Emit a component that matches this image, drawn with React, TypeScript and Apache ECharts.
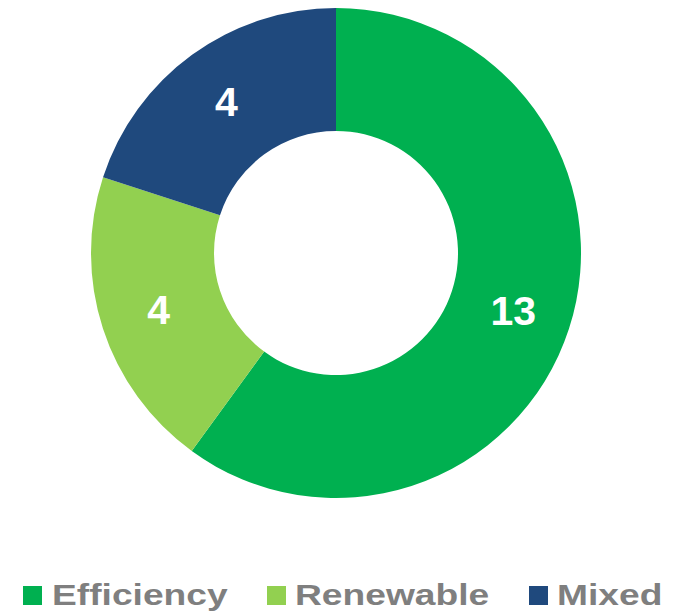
import React, { useEffect, useRef } from "react";
import * as echarts from "echarts";

const categories = ["Efficiency", "Renewable", "Mixed"];
const sliceValues = [13, 4.33, 4.33];
const labelValues = [13, 4, 4];
const colors = ["#00B050", "#92D050", "#1F497D"];

export default function App() {
  const ref = useRef<HTMLDivElement>(null);

  useEffect(() => {
    if (!ref.current) return;
    const chart = echarts.init(ref.current, null, { renderer: "svg" });

    const legendSquareX = [23, 267, 529];
    const legendTextX = [52, 295, 557];
    const legendGraphics: any[] = [];
    categories.forEach((name, i) => {
      legendGraphics.push({
        type: "rect",
        shape: { x: legendSquareX[i], y: 586, width: 19, height: 19 },
        style: { fill: colors[i] },
        silent: true,
      });
      legendGraphics.push({
        type: "text",
        x: legendTextX[i],
        y: 594,
        scaleX: 1.24,
        scaleY: 1,
        style: {
          text: name,
          fill: "#7F7F7F",
          font: "bold 30px 'Liberation Sans', Arial, sans-serif",
          align: "left",
          verticalAlign: "middle",
        },
        silent: true,
      });
    });

    chart.setOption({
      animation: false,
      backgroundColor: "#FFFFFF",
      graphic: legendGraphics,
      series: [
        {
          type: "pie",
          center: [336, 253],
          radius: [122, 245],
          startAngle: 90,
          clockwise: true,
          avoidLabelOverlap: false,
          emphasis: { disabled: true },
          itemStyle: { borderWidth: 0 },
          label: {
            show: true,
            position: "inside",
            color: "#FFFFFF",
            fontSize: 41,
            fontWeight: "bold",
            fontFamily: "'Liberation Sans', Arial, sans-serif",
            formatter: (p: any) => String(labelValues[p.dataIndex]),
          },
          labelLine: { show: false },
          data: categories.map((name, i) => ({
            name,
            value: sliceValues[i],
            itemStyle: { color: colors[i] },
          })),
        },
      ],
    });

    return () => {
      chart.dispose();
    };
  }, []);

  return (
    <div
      ref={ref}
      style={{ position: "fixed", left: 0, top: 0, width: 676, height: 615 }}
    />
  );
}
